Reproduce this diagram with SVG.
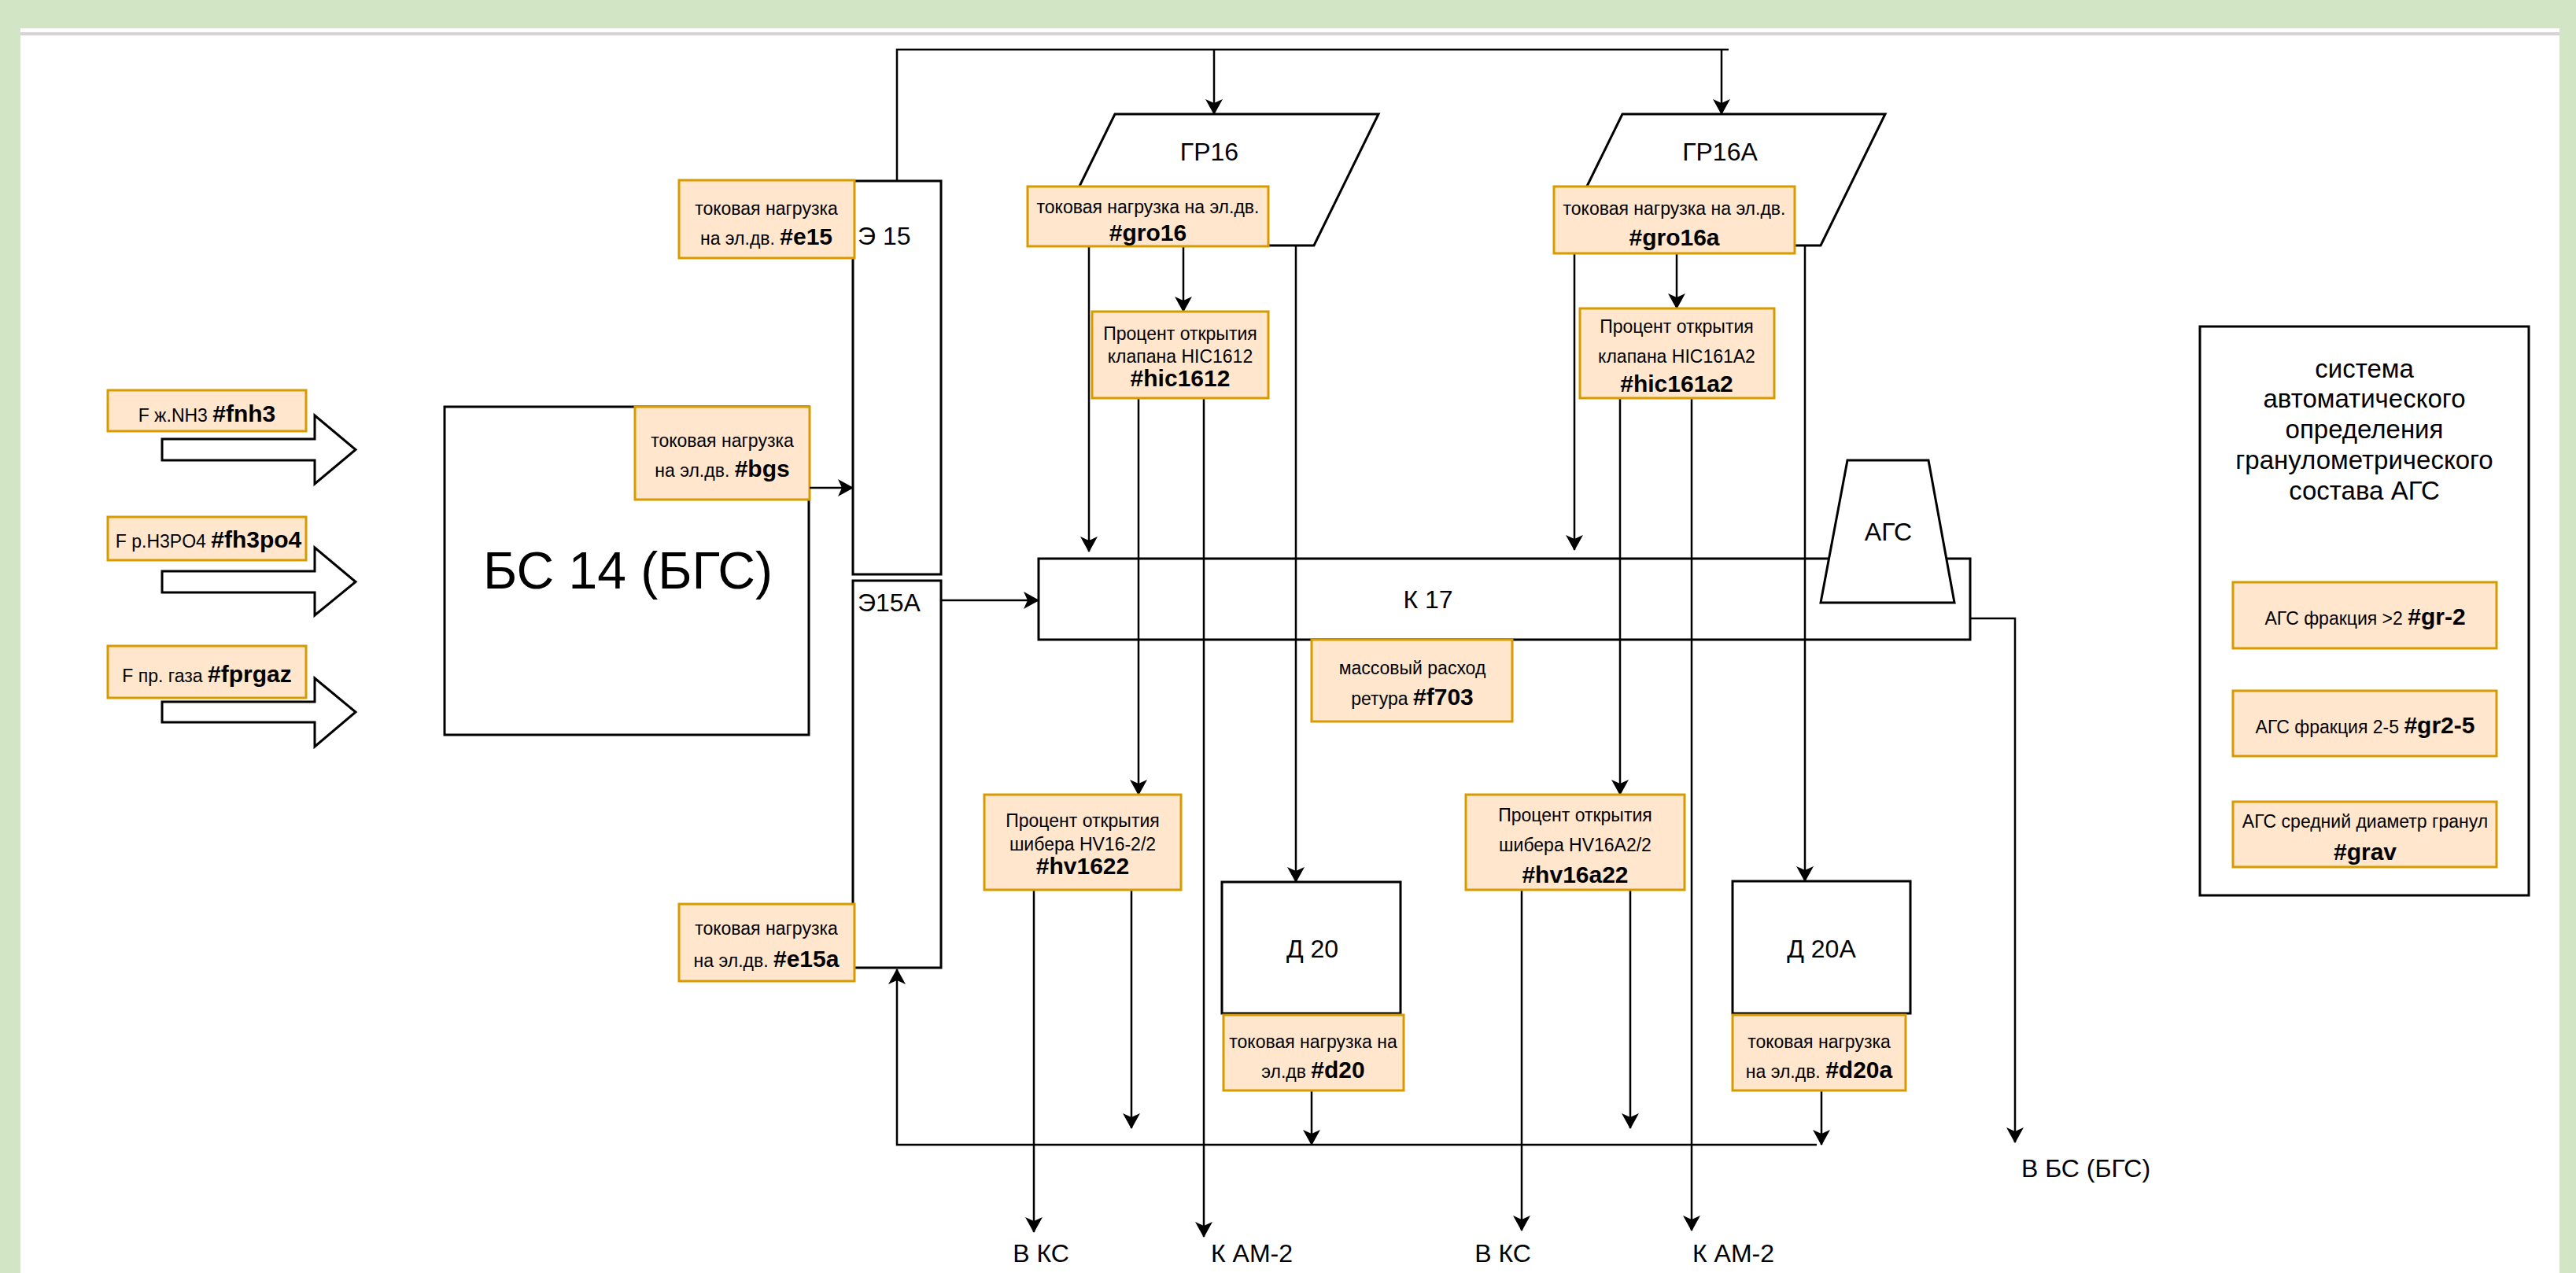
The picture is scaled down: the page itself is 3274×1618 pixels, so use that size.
<svg xmlns="http://www.w3.org/2000/svg" width="3274" height="1618" viewBox="0 0 3274 1618">
<defs>
<style>
text{font-family:"Liberation Sans",Arial,Helvetica,sans-serif;fill:#000;}
.s{font-size:23px;text-anchor:middle;}
.b{font-size:30px;font-weight:bold;}
.m{font-size:32px;text-anchor:middle;}
.box{fill:#fff;stroke:#000;stroke-width:3;}
.tag{fill:#ffe6cc;stroke:#d79b00;stroke-width:3;}
.ln{fill:none;stroke:#000;stroke-width:2.5;}
.ar{fill:none;stroke:#000;stroke-width:2.5;marker-end:url(#ah);}
.fat{fill:#fff;stroke:#000;stroke-width:3;}
</style>
<marker id="ah" markerWidth="22" markerHeight="24" refX="19" refY="12" orient="auto" markerUnits="userSpaceOnUse">
<path d="M0,1 L20,12 L0,23 L5,12 Z" fill="#000"/>
</marker>
</defs>
<rect x="0" y="0" width="3274" height="1618" fill="#d2e5c5"/>
<rect x="26" y="36" width="3227" height="1582" fill="#fff"/>
<line x1="26" y1="43" x2="3253" y2="43" stroke="#d4d4d4" stroke-width="4"/>

<g id="inputs">
<g id="in-fnh3">
<path class="fat" d="M206,558 H400 V528 L452,571.5 L400,615 V585 H206 Z"/>
<rect class="tag" x="137" y="496" width="252" height="52"/>
<text class="s" x="263" y="536">F ж.NH3 <tspan class="b">#fnh3</tspan></text>
</g>
<g id="in-fh3po4">
<path class="fat" d="M206,726 H400 V696 L452,739.5 L400,782 V753 H206 Z"/>
<rect class="tag" x="137" y="657" width="252" height="55"/>
<text class="s" x="265" y="696">F р.H3PO4 <tspan class="b">#fh3po4</tspan></text>
</g>
<g id="in-fprgaz">
<path class="fat" d="M206,892 H400 V862 L452,905 L400,949 V918 H206 Z"/>
<rect class="tag" x="137" y="821" width="252" height="66"/>
<text class="s" x="263" y="867">F пр. газа <tspan class="b">#fprgaz</tspan></text>
</g>
</g>

<g id="bs14">
<rect class="box" x="565" y="517" width="463" height="417"/>
<text x="798" y="748" style="font-size:66px;text-anchor:middle">БС 14 (БГС)</text>
<rect class="tag" x="807" y="517" width="222" height="118"/>
<text class="s" x="918" y="568">токовая нагрузка</text>
<text class="s" x="918" y="606">на эл.дв. <tspan class="b">#bgs</tspan></text>
</g>

<g id="k17">
<rect class="box" x="1320" y="710" width="1184" height="103"/>
<text class="m" x="1815" y="773">К 17</text>
</g>

<g id="connectors">
<path class="ln" d="M1140,230 V63 H2197"/>
<path class="ar" d="M1543,63 V145"/>
<path class="ar" d="M2188,63 V145"/>
<path class="ar" d="M1029,620 H1084"/>
<path class="ar" d="M1196,763 H1320"/>
<path class="ar" d="M1384,313 V701"/>
<path class="ar" d="M1504,313 V396"/>
<path class="ar" d="M1647,312 V1121"/>
<path class="ar" d="M1447,506 V1010"/>
<path class="ar" d="M1530,506 V1572"/>
<path class="ar" d="M2001,322 V699"/>
<path class="ar" d="M2131,322 V392"/>
<path class="ar" d="M2294,312 V1120"/>
<path class="ar" d="M2059,506 V1010"/>
<path class="ar" d="M2150,506 V1564"/>
<path class="ar" d="M1314,1131 V1566"/>
<path class="ar" d="M1438,1131 V1434"/>
<path class="ar" d="M1934,1131 V1564"/>
<path class="ar" d="M2072,1131 V1434"/>
<path class="ar" d="M1667,1386 V1455"/>
<path class="ar" d="M2315,1386 V1455"/>
<path class="ar" d="M2309,1455 H1140 V1232"/>
<path class="ar" d="M2504,786 H2561 V1452"/>
</g>

<g id="e15">
<rect class="box" x="1084" y="230" width="112" height="500"/>
<text x="1090" y="311" style="font-size:32px">Э 15</text>
<rect class="tag" x="863" y="229" width="223" height="99"/>
<text class="s" x="974" y="273">токовая нагрузка</text>
<text class="s" x="974" y="311">на эл.дв. <tspan class="b">#e15</tspan></text>
</g>

<g id="e15a">
<rect class="box" x="1084" y="738" width="112" height="492"/>
<text x="1090" y="777" style="font-size:32px">Э15А</text>
<rect class="tag" x="863" y="1149" width="223" height="98"/>
<text class="s" x="974" y="1188">токовая нагрузка</text>
<text class="s" x="974" y="1229">на эл.дв. <tspan class="b">#e15a</tspan></text>
</g>

<g id="gr16">
<path class="box" d="M1417,145 H1752 L1670,312 H1335 Z"/>
<text class="m" x="1537" y="204">ГР16</text>
<rect class="tag" x="1306" y="237" width="306" height="76"/>
<text class="s" x="1459" y="271">токовая нагрузка на эл.дв.</text>
<text class="b" x="1459" y="306" text-anchor="middle">#gro16</text>
</g>

<g id="hic1612">
<rect class="tag" x="1388" y="396" width="224" height="110"/>
<text class="s" x="1500" y="432">Процент открытия</text>
<text class="s" x="1500" y="461">клапана HIC1612</text>
<text class="b" x="1500" y="491" text-anchor="middle">#hic1612</text>
</g>

<g id="gr16a">
<path class="box" d="M2062,145 H2396 L2314,312 H1980 Z"/>
<text class="m" x="2186" y="204">ГР16А</text>
<rect class="tag" x="1975" y="237" width="306" height="85"/>
<text class="s" x="2128" y="273">токовая нагрузка на эл.дв.</text>
<text class="b" x="2128" y="312" text-anchor="middle">#gro16a</text>
</g>

<g id="hic161a2">
<rect class="tag" x="2008" y="392" width="247" height="114"/>
<text class="s" x="2131" y="423">Процент открытия</text>
<text class="s" x="2131" y="461">клапана HIC161A2</text>
<text class="b" x="2131" y="498" text-anchor="middle">#hic161a2</text>
</g>

<g id="ags">
<path class="box" d="M2348,585 H2451 L2484,766 H2314 Z"/>
<text class="m" x="2400" y="687">АГС</text>
</g>

<g id="f703">
<rect class="tag" x="1667" y="813" width="255" height="104"/>
<text class="s" x="1795" y="857">массовый расход</text>
<text class="s" x="1795" y="896">ретура <tspan class="b">#f703</tspan></text>
</g>

<g id="hv1622">
<rect class="tag" x="1251" y="1010" width="250" height="121"/>
<text class="s" x="1376" y="1051">Процент открытия</text>
<text class="s" x="1376" y="1081">шибера HV16-2/2</text>
<text class="b" x="1376" y="1111" text-anchor="middle">#hv1622</text>
</g>

<g id="hv16a22">
<rect class="tag" x="1863" y="1010" width="278" height="121"/>
<text class="s" x="2002" y="1044">Процент открытия</text>
<text class="s" x="2002" y="1082">шибера HV16A2/2</text>
<text class="b" x="2002" y="1122" text-anchor="middle">#hv16a22</text>
</g>

<g id="d20">
<rect class="box" x="1553" y="1121" width="227" height="167"/>
<text class="m" x="1668" y="1217">Д 20</text>
<rect class="tag" x="1555" y="1290" width="229" height="96"/>
<text class="s" x="1669" y="1332">токовая нагрузка на</text>
<text class="s" x="1669" y="1370">эл.дв  <tspan class="b">#d20</tspan></text>
</g>

<g id="d20a">
<rect class="box" x="2202" y="1120" width="226" height="168"/>
<text class="m" x="2315" y="1217">Д 20А</text>
<rect class="tag" x="2202" y="1290" width="220" height="96"/>
<text class="s" x="2312" y="1332">токовая нагрузка</text>
<text class="s" x="2312" y="1370">на эл.дв. <tspan class="b">#d20a</tspan></text>
</g>

<g id="system">
<rect class="box" x="2796" y="415" width="418" height="723"/>
<text class="m" x="3005" y="480" style="font-size:33px">система</text>
<text class="m" x="3005" y="518" style="font-size:33px">автоматического</text>
<text class="m" x="3005" y="557" style="font-size:33px">определения</text>
<text class="m" x="3005" y="596" style="font-size:33px">гранулометрического</text>
<text class="m" x="3005" y="635" style="font-size:33px">состава АГС</text>
<g id="gr-2">
<rect class="tag" x="2838" y="740" width="335" height="84"/>
<text class="s" x="3006" y="794">АГС фракция &gt;2 <tspan class="b">#gr-2</tspan></text>
</g>
<g id="gr2-5">
<rect class="tag" x="2838" y="878" width="335" height="83"/>
<text class="s" x="3006" y="932">АГС фракция 2-5 <tspan class="b">#gr2-5</tspan></text>
</g>
<g id="grav">
<rect class="tag" x="2838" y="1019" width="335" height="83"/>
<text class="s" x="3006" y="1052">АГС средний диаметр гранул</text>
<text class="b" x="3006" y="1093" text-anchor="middle">#grav</text>
</g>
</g>

<g id="labels">
<text class="m" x="1323" y="1604">В КС</text>
<text class="m" x="1591" y="1604">К АМ-2</text>
<text class="m" x="1910" y="1604">В КС</text>
<text class="m" x="2203" y="1604">К АМ-2</text>
<text class="m" x="2651" y="1496">В БС (БГС)</text>
</g>
</svg>
